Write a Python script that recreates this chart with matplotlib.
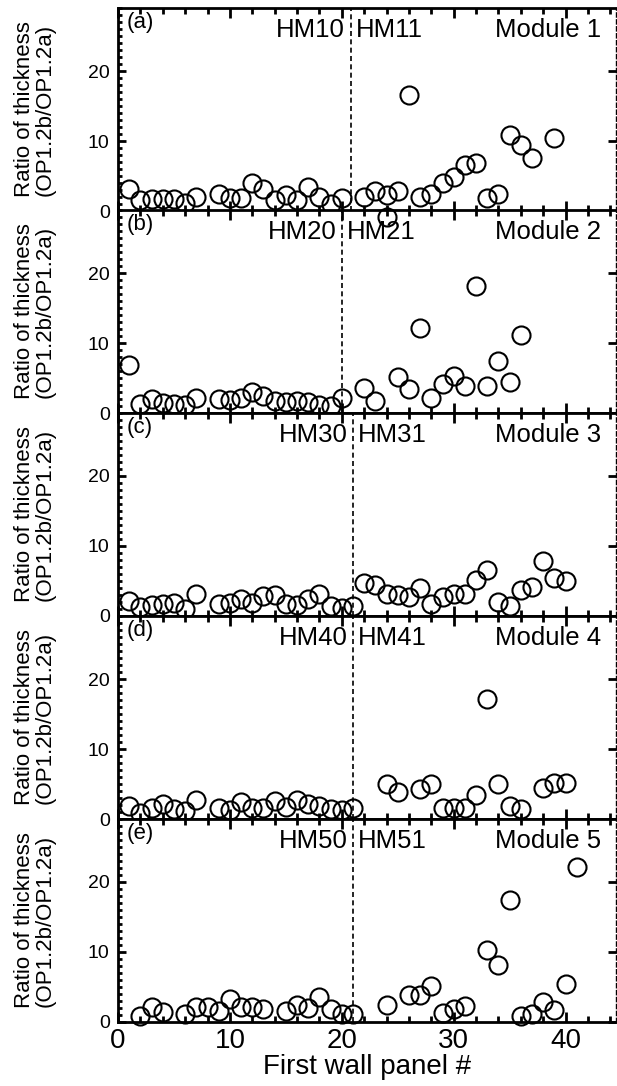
import matplotlib
matplotlib.use('Agg')
import matplotlib.pyplot as plt
import numpy as np
import matplotlib.ticker as ticker

plt.rcParams['font.family'] = ['Liberation Sans', 'DejaVu Sans']

# panel (a) - Module 1
x1 = [1, 2, 3, 4, 5, 6, 7, 9, 10, 11, 12, 13, 14, 15, 16, 17, 18, 19, 20,
      22, 23, 24, 25, 26, 27, 28, 29, 30, 31, 32, 33, 34, 35, 36, 37, 39]
y1 = [3.2, 1.6, 1.7, 1.7, 1.7, 1.2, 2.0, 2.5, 1.8, 1.9, 4.0, 3.2, 1.6, 2.3, 1.6, 3.5, 2.0, 1.0, 1.8,
      2.0, 2.9, 2.3, 2.8, 16.6, 2.0, 2.4, 4.0, 4.9, 6.6, 6.8, 1.9, 2.4, 10.9, 9.5, 7.6, 10.5]

# panel (b) - Module 2
x2 = [1, 2, 3, 4, 5, 6, 7, 9, 10, 11, 12, 13, 14, 15, 16, 17, 18, 19, 20,
      22, 23, 24, 25, 26, 27, 28, 29, 30, 31, 32, 33, 34, 35, 36]
y2 = [6.8, 1.3, 2.0, 1.4, 1.3, 1.2, 2.1, 2.0, 1.8, 2.2, 3.0, 2.4, 1.7, 1.6, 1.7, 1.6, 1.2, 1.0, 2.1,
      3.6, 1.7, 28.0, 5.1, 3.4, 12.1, 2.1, 4.1, 5.3, 3.9, 18.2, 3.9, 7.4, 4.5, 11.1]

# panel (c) - Module 3
x3 = [1, 2, 3, 4, 5, 6, 7, 9, 10, 11, 12, 13, 14, 15, 16, 17, 18, 19, 20,
      21, 22, 23, 24, 25, 26, 27, 28, 29, 30, 31, 32, 33, 34, 35, 36, 37, 38, 39, 40]
y3 = [2.1, 1.3, 1.6, 1.7, 1.9, 1.0, 3.1, 1.7, 1.8, 2.5, 1.8, 2.9, 3.0, 1.7, 1.6, 2.5, 3.2, 1.4, 1.1,
      1.4, 4.7, 4.5, 3.1, 3.0, 2.7, 4.0, 1.7, 2.7, 3.1, 3.1, 5.2, 6.6, 2.0, 1.5, 3.7, 4.2, 7.8, 5.4, 5.0]

# panel (d) - Module 4
x4 = [1, 2, 3, 4, 5, 6, 7, 9, 10, 11, 12, 13, 14, 15, 16, 17, 18, 19, 20,
      21, 24, 25, 27, 28, 29, 30, 31, 32, 33, 34, 35, 36, 38, 39, 40]
y4 = [1.9, 0.9, 1.6, 2.2, 1.5, 1.1, 2.7, 1.6, 1.3, 2.4, 1.6, 1.6, 2.6, 1.7, 2.7, 2.2, 1.9, 1.5, 1.3,
      1.6, 5.0, 3.8, 4.3, 5.0, 1.6, 1.6, 1.6, 3.4, 17.1, 5.0, 1.9, 1.4, 4.5, 5.2, 5.2]

# panel (e) - Module 5
x5 = [2, 3, 4, 6, 7, 8, 9, 10, 11, 12, 13, 15, 16, 17, 18, 19, 20,
      21, 24, 26, 27, 28, 29, 30, 31, 33, 34, 35, 36, 37, 38, 39, 40, 41]
y5 = [0.8, 2.2, 1.4, 1.1, 2.2, 2.2, 1.6, 3.3, 2.1, 2.1, 1.9, 1.6, 2.4, 2.0, 3.6, 1.9, 1.1,
      1.1, 2.4, 3.9, 3.9, 5.2, 1.3, 1.8, 2.3, 10.3, 8.2, 17.5, 0.8, 1.1, 2.9, 1.7, 5.4, 22.2]

xs = [x1, x2, x3, x4, x5]
ys = [y1, y2, y3, y4, y5]
tags = ['(a)', '(b)', '(c)', '(d)', '(e)']
hm_left = ['HM10', 'HM20', 'HM30', 'HM40', 'HM50']
hm_right = ['HM11', 'HM21', 'HM31', 'HM41', 'HM51']
modules = ['Module 1', 'Module 2', 'Module 3', 'Module 4', 'Module 5']
boundary = [20.8, 20.0, 21.0, 21.0, 21.0]

W, H = 617, 1086
fig = plt.figure(figsize=(W / 100, H / 100), dpi=100)

left_px, right_px = 118, 616
bottoms_px = [211, 413, 616, 819, 1022]
panel_h = 203

for i in range(5):
    ax = fig.add_axes([left_px / W, 1 - bottoms_px[i] / H,
                       (right_px - left_px) / W, panel_h / H])
    ax.plot(xs[i], ys[i], 'o', ms=13, mfc='none', mec='black', mew=1.5,
            clip_on=False, zorder=5)
    ax.axvline(boundary[i], color='black', lw=1.2, ls=(0, (3, 2)))
    ax.set_xlim(0, 44.5)
    ax.set_ylim(0, 29)

    ax.xaxis.set_major_locator(ticker.MultipleLocator(10))
    ax.xaxis.set_minor_locator(ticker.MultipleLocator(2))
    ax.yaxis.set_major_locator(ticker.MultipleLocator(10))
    ax.yaxis.set_minor_locator(ticker.MultipleLocator(1))
    ax.tick_params(axis='x', which='both', direction='in', top=True, bottom=True,
                   width=2, labelsize=20, pad=4)
    ax.tick_params(axis='x', which='major', length=7)
    ax.tick_params(axis='x', which='minor', length=4)
    ax.tick_params(axis='y', which='both', direction='in', left=True, right=True,
                   width=2, labelsize=14, pad=6)
    ax.tick_params(axis='y', which='major', length=6)
    ax.tick_params(axis='y', which='minor', length=3, right=False)
    if i < 4:
        ax.tick_params(axis='x', labelbottom=False)
    else:
        ax.set_xlabel('First wall panel #', fontsize=20, labelpad=0)

    for s in ['left', 'bottom', 'top']:
        ax.spines[s].set_linewidth(2)
    ax.spines['right'].set_linewidth(1)
    ax.spines['right'].set_linestyle((0, (3, 2)))

    ax.set_ylabel('Ratio of thickness\n(OP1.2b/OP1.2a)', fontsize=16, linespacing=1.0)
    ax.yaxis.set_label_coords(-0.125, 0.5)

    ax.text(0.8, 26.2, tags[i], fontsize=16, ha='left', va='baseline')
    ax.text(boundary[i] - 0.5, 24.9, hm_left[i], fontsize=18.5, ha='right', va='baseline')
    ax.text(boundary[i] + 0.45, 24.9, hm_right[i], fontsize=18.5, ha='left', va='baseline')
    ax.text(43.2, 24.9, modules[i], fontsize=18.5, ha='right', va='baseline')

fig.savefig('out.png', dpi=100)
